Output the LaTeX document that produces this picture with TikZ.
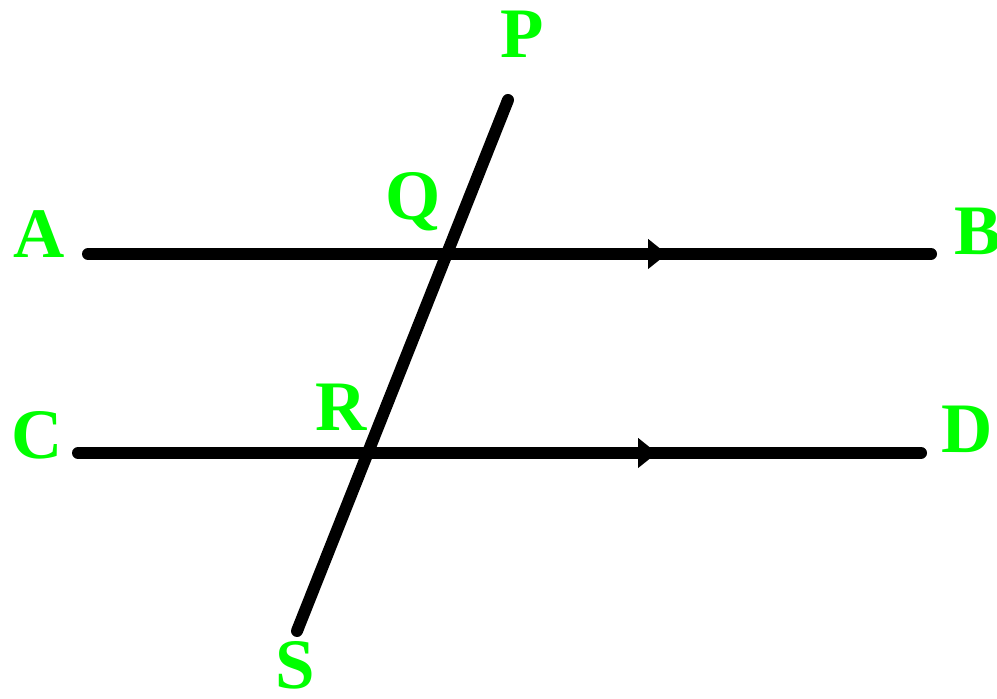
\documentclass[tikz,border=0pt]{standalone}
\usepackage{fontspec}
\setmainfont{Liberation Serif}
\usepackage{xcolor}
\usepackage{tikz}
\usetikzlibrary{arrows.meta,decorations.markings}
\definecolor{ptgreen}{RGB}{0,255,0}

\begin{document}
\begin{tikzpicture}[x=0.5pt, y=-0.5pt,
  seg/.style={line width=6pt, line cap=round},
  par/.style={seg, postaction={decorate}, decoration={markings,
    mark=at position 289.5pt with {\arrow{Triangle[length=9.5pt, width=14.5pt]}}}},
  pt/.style={text=ptgreen, font=\bfseries\fontsize{35.5}{36}\selectfont, inner sep=0pt, anchor=base}]
  \useasboundingbox (0,0) rectangle (997,699);
  % line ends
  \coordinate (a) at (88,254);   \coordinate (b) at (931,254);
  \coordinate (c) at (78,453);   \coordinate (d) at (921,453);
  \coordinate (p) at (508,100);  \coordinate (s) at (297,631);
  % labels
  \node[pt] (lA) at (39,258) {A};
  \node[pt] (lB) at (978,255) {B};
  \node[pt] (lC) at (37,459) {C};
  \node[pt] (lD) at (967,453) {D};
  \node[pt] (lP) at (522,58) {P};
  \node[pt] (lQ) at (413,220) {Q};
  \node[pt] (lR) at (341,431) {R};
  \node[pt] (lS) at (295,689) {S};
  % lines
  \draw[par] (a) -- (b);
  \draw[par] (c) -- (d);
  \draw[seg] (p) -- (s);
\end{tikzpicture}
\end{document}
